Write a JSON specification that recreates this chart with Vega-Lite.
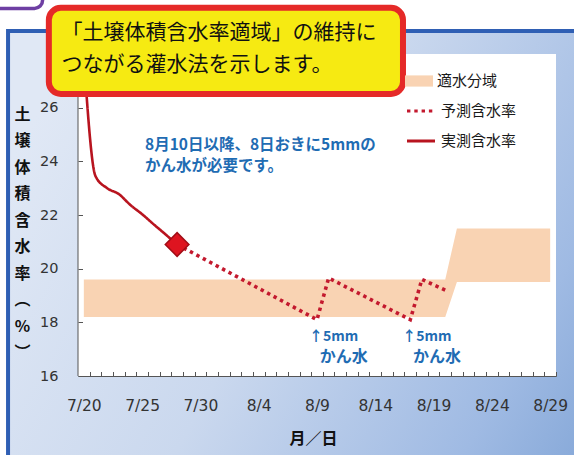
{
  "$schema": "https://vega.github.io/schema/vega-lite/v6.json",
  "width": 478,
  "height": 322,
  "autosize": {"type": "none"},
  "padding": {"left": 78, "top": 54, "right": 18, "bottom": 79},
  "background": "#ffffff",
  "config": {"view": {"stroke": null}, "font": "Noto Sans CJK JP"},
  "data": {"values": [{}]},
  "datasets": {
    "band": [
      {"date": "2024-07-20T00:00:00", "lo": 18.2, "hi": 19.6},
      {"date": "2024-08-20T00:00:00", "lo": 18.2, "hi": 19.6},
      {"date": "2024-08-21T00:00:00", "lo": 19.5, "hi": 21.5},
      {"date": "2024-08-29T00:00:00", "lo": 19.5, "hi": 21.5}
    ],
    "measured": [
      {"date": "2024-07-20T00:00:00", "value": 27.9},
      {"date": "2024-07-21T00:00:00", "value": 23.45},
      {"date": "2024-07-22T00:00:00", "value": 23.0},
      {"date": "2024-07-23T00:00:00", "value": 22.78},
      {"date": "2024-07-24T00:00:00", "value": 22.37},
      {"date": "2024-07-25T00:00:00", "value": 22.03},
      {"date": "2024-07-26T00:00:00", "value": 21.65},
      {"date": "2024-07-27T00:00:00", "value": 21.28},
      {"date": "2024-07-28T00:00:00", "value": 20.9}
    ],
    "forecast": [
      {"date": "2024-07-28T00:00:00", "value": 20.9},
      {"date": "2024-08-09T00:00:00", "value": 18.1},
      {"date": "2024-08-10T00:00:00", "value": 19.65},
      {"date": "2024-08-17T00:00:00", "value": 18.1},
      {"date": "2024-08-18T00:00:00", "value": 19.6},
      {"date": "2024-08-20T00:00:00", "value": 19.2}
    ],
    "irrigation": [
      {"date": "2024-08-10T00:00:00", "amount": "↑5mm", "action": "かん水"},
      {"date": "2024-08-18T00:00:00", "amount": "↑5mm", "action": "かん水"}
    ]
  },
  "layer": [
    {
      "mark": {
        "type": "rect",
        "fill": {
          "gradient": "linear", "x1": 0, "y1": 0.3, "x2": 1, "y2": 0.7,
          "stops": [
            {"offset": 0, "color": "#e0e8f5"},
            {"offset": 0.45, "color": "#cad8ee"},
            {"offset": 0.85, "color": "#9fbae3"},
            {"offset": 1, "color": "#8aabda"}
          ]
        },
        "stroke": "#2f5fb4",
        "strokeWidth": 4
      },
      "encoding": {
        "x": {
          "datum": {"year": 2024, "month": 7, "date": 13, "hours": 12},
          "type": "temporal",
          "scale": {"domain": [
            {"year": 2024, "month": 7, "date": 19, "hours": 12},
            {"year": 2024, "month": 8, "date": 29, "hours": 12}
          ]},
          "axis": {
            "zindex": 1,
            "tickCount": {"interval": "day", "step": 1},
            "format": "%-m/%-d",
            "labelExpr": "(month(datum.value) === 6 ? date(datum.value) % 5 === 0 : date(datum.value) % 5 === 4) ? datum.label : ''",
            "tickOffset": 5.83,
            "labelOffset": -5.83,
            "tickSize": -4.5,
            "tickColor": "#555555",
            "domainColor": "#555555",
            "labelPadding": 26.5,
            "labelFont": "DejaVu Sans",
            "labelFontSize": 15.5,
            "labelColor": "#333333",
            "labelOverlap": false,
            "labelFlush": false,
            "labelBound": false,
            "grid": false,
            "title": "月／日",
            "titleFont": "Noto Sans CJK JP",
            "titleFontSize": 16,
            "titleFontWeight": "bold",
            "titleColor": "#111111",
            "titleX": 235,
            "titleY": 62,
            "titleAlign": "center",
            "titleBaseline": "middle"
          }
        },
        "x2": {"datum": {"year": 2024, "month": 9, "date": 5}},
        "y": {
          "datum": 28.86,
          "type": "quantitative",
          "scale": {"domain": [16, 28], "nice": false, "zero": false},
          "axis": {
            "zindex": 1,
            "values": [16, 16.5, 17, 17.5, 18, 18.5, 19, 19.5, 20, 20.5, 21, 21.5, 22, 22.5, 23, 23.5, 24, 24.5, 25, 25.5, 26],
            "labelExpr": "datum.value % 2 === 0 ? datum.label : ''",
            "domain": false,
            "tickSize": -4.5,
            "tickColor": "#555555",
            "labelPadding": 24.5,
            "labelFont": "DejaVu Sans",
            "labelFontSize": 14.5,
            "labelColor": "#333333",
            "labelOverlap": false,
            "grid": false,
            "title": ["土", "壌", "体", "積", "含", "水", "率", "︵", "%", "︶"],
            "titleAngle": 0,
            "titleAlign": "center",
            "titleBaseline": "top",
            "titleX": -56,
            "titleY": 52,
            "titleLineHeight": 26.5,
            "titleFont": "Noto Sans CJK JP",
            "titleFontSize": 16,
            "titleFontWeight": "bold",
            "titleColor": "#111111"
          }
        },
        "y2": {"datum": 12}
      }
    },
    {
      "mark": {"type": "rect", "fill": "#ffffff"},
      "encoding": {
        "x": {"datum": {"year": 2024, "month": 7, "date": 19, "hours": 12}, "type": "temporal"},
        "x2": {"datum": {"year": 2024, "month": 8, "date": 29, "hours": 12}},
        "y": {"datum": 16, "type": "quantitative"},
        "y2": {"datum": 28}
      }
    },
    {
      "mark": {"type": "rule", "color": "#555555", "strokeWidth": 1},
      "encoding": {
        "x": {"datum": {"year": 2024, "month": 7, "date": 19, "hours": 12}, "type": "temporal"},
        "y": {"datum": 16, "type": "quantitative"},
        "y2": {"datum": 28}
      }
    },
    {
      "data": {"name": "band"},
      "mark": {"type": "area", "opacity": 1},
      "encoding": {
        "x": {"field": "date", "type": "temporal"},
        "y": {"field": "hi", "type": "quantitative"},
        "y2": {"field": "lo"},
        "fill": {
          "datum": "適水分域",
          "type": "nominal",
          "scale": {"domain": ["適水分域"], "range": ["#f9d3b3"]},
          "legend": {
            "orient": "none",
            "legendX": 327,
            "legendY": 13,
            "title": null,
            "padding": 0,
            "symbolType": "M-1,-0.4H1V0.4H-1Z",
            "symbolSize": 784,
            "symbolStrokeWidth": 0,
            "symbolOpacity": 1,
            "labelFont": "Noto Sans CJK JP",
            "labelFontSize": 15,
            "labelColor": "#1a1a1a",
            "labelOffset": 4
          }
        }
      }
    },
    {
      "data": {"name": "forecast"},
      "mark": {"type": "line", "strokeWidth": 3.6},
      "encoding": {
        "x": {"field": "date", "type": "temporal"},
        "y": {"field": "value", "type": "quantitative"},
        "stroke": {
          "datum": "予測含水率",
          "type": "nominal",
          "scale": {"domain": ["予測含水率", "実測含水率"], "range": ["#c3192e", "#b8141f"]},
          "legend": {
            "orient": "none",
            "legendX": 327,
            "legendY": 41,
            "title": null,
            "padding": 0,
            "symbolType": "stroke",
            "symbolSize": 784,
            "symbolStrokeWidth": 3.2,
            "labelFont": "Noto Sans CJK JP",
            "labelFontSize": 15,
            "labelColor": "#1a1a1a",
            "labelOffset": 4,
            "rowPadding": 6
          }
        },
        "strokeDash": {
          "datum": "予測含水率",
          "type": "nominal",
          "scale": {"domain": ["予測含水率", "実測含水率"], "range": [[3.4, 3.9], [1, 0]]},
          "legend": {
            "orient": "none",
            "legendX": 327,
            "legendY": 41,
            "title": null,
            "padding": 0,
            "symbolType": "stroke",
            "symbolSize": 784,
            "symbolStrokeWidth": 3.2,
            "labelFont": "Noto Sans CJK JP",
            "labelFontSize": 15,
            "labelColor": "#1a1a1a",
            "labelOffset": 4,
            "rowPadding": 6
          }
        }
      }
    },
    {
      "data": {"name": "measured"},
      "mark": {"type": "line", "interpolate": "monotone", "strokeWidth": 2.6, "clip": true},
      "encoding": {
        "x": {"field": "date", "type": "temporal"},
        "y": {"field": "value", "type": "quantitative"},
        "stroke": {"datum": "実測含水率", "type": "nominal"},
        "strokeDash": {"datum": "実測含水率", "type": "nominal"}
      }
    },
    {
      "data": {"name": "measured"},
      "transform": [{"filter": "date(datum.date) === 28"}],
      "mark": {"type": "point", "shape": "diamond", "filled": true, "size": 560, "fill": "#de1420", "stroke": "#a10d16", "strokeWidth": 1.5, "opacity": 1},
      "encoding": {
        "x": {"field": "date", "type": "temporal"},
        "y": {"field": "value", "type": "quantitative"}
      }
    },
    {
      "mark": {"type": "text", "align": "left", "baseline": "middle", "font": "Noto Sans CJK JP", "fontSize": 15.5, "fontWeight": "bold", "color": "#1f6cb3", "lineHeight": 21},
      "encoding": {
        "x": {"datum": {"year": 2024, "month": 7, "date": 25, "hours": 6}, "type": "temporal"},
        "y": {"datum": 24.62, "type": "quantitative"},
        "text": {"value": ["8月10日以降、8日おきに5mmの", "かん水が必要です。"]}
      }
    },
    {
      "data": {"name": "irrigation"},
      "mark": {"type": "text", "align": "center", "baseline": "middle", "dx": 5, "font": "Noto Sans CJK JP", "fontSize": 14, "fontWeight": "bold", "color": "#1f6cb3"},
      "encoding": {
        "x": {"field": "date", "type": "temporal"},
        "y": {"datum": 17.46, "type": "quantitative"},
        "text": {"field": "amount"}
      }
    },
    {
      "data": {"name": "irrigation"},
      "mark": {"type": "text", "align": "center", "baseline": "middle", "dx": 15, "font": "Noto Sans CJK JP", "fontSize": 16, "fontWeight": "bold", "color": "#1f6cb3"},
      "encoding": {
        "x": {"field": "date", "type": "temporal"},
        "y": {"datum": 16.72, "type": "quantitative"},
        "text": {"field": "action"}
      }
    },
    {
      "mark": {"type": "rect", "fill": "#f6ea12", "stroke": "#e52a28", "strokeWidth": 6, "cornerRadius": 12},
      "encoding": {
        "x": {"datum": {"year": 2024, "month": 7, "date": 17, "hours": 0}, "type": "temporal"},
        "x2": {"datum": {"year": 2024, "month": 8, "date": 16, "hours": 9}},
        "y": {"datum": 29.72, "type": "quantitative"},
        "y2": {"datum": 26.51}
      }
    },
    {
      "mark": {"type": "text", "align": "left", "baseline": "middle", "font": "Noto Sans CJK JP", "fontSize": 21, "color": "#111111", "lineHeight": 32},
      "encoding": {
        "x": {"datum": {"year": 2024, "month": 7, "date": 18, "hours": 2}, "type": "temporal"},
        "y": {"datum": 28.78, "type": "quantitative"},
        "text": {"value": ["「土壌体積含水率適域」の維持に", "つながる灌水法を示します。"]}
      }
    },
    {
      "mark": {"type": "rect", "fill": "#ffffff", "stroke": "#6e3fa3", "strokeWidth": 3.5, "cornerRadius": 8},
      "encoding": {
        "x": {"datum": {"year": 2024, "month": 7, "date": 5}, "type": "temporal"},
        "x2": {"datum": {"year": 2024, "month": 7, "date": 16, "hours": 11}},
        "y": {"datum": 32, "type": "quantitative"},
        "y2": {"datum": 29.7}
      }
    }
  ]
}
